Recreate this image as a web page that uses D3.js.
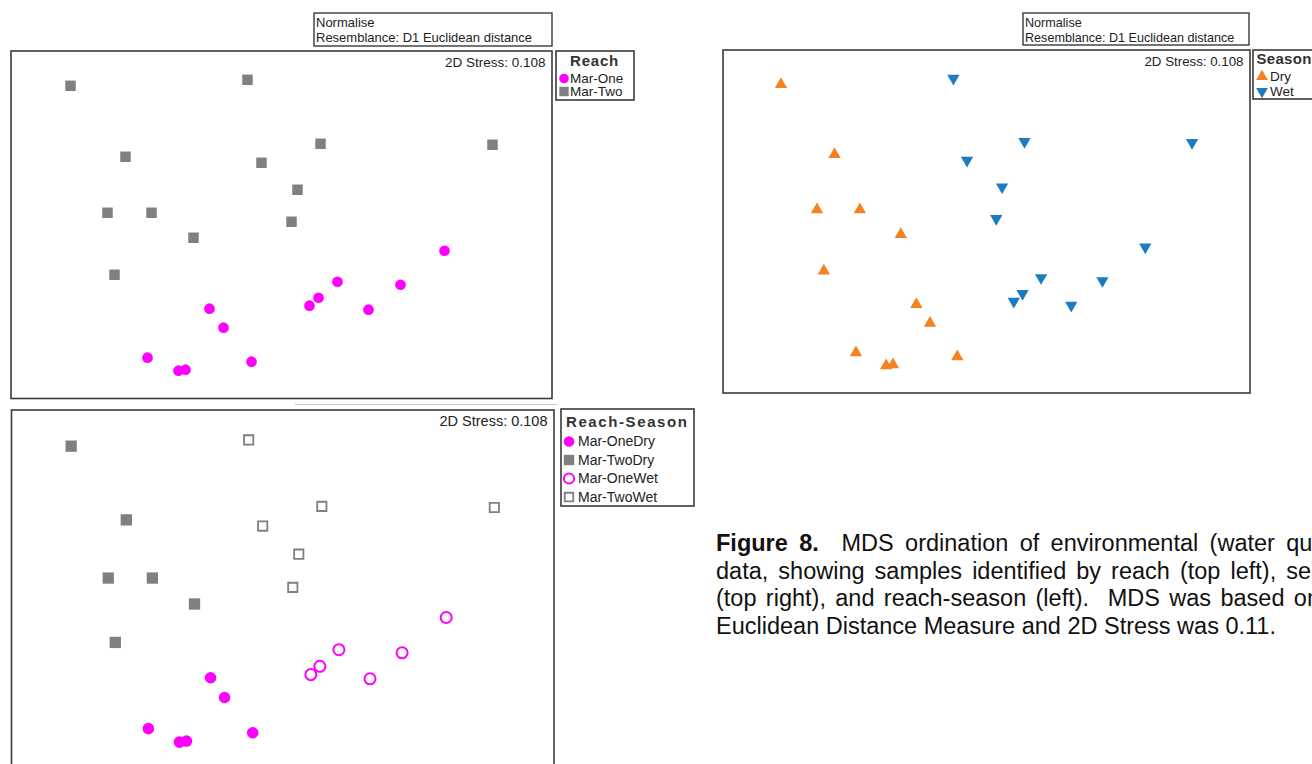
<!DOCTYPE html>
<html>
<head>
<meta charset="utf-8">
<script src="https://cdn.jsdelivr.net/npm/d3@7"></script>
<style>
  body { margin: 0; background: #fff; }
  svg { display: block; font-family: "Liberation Sans", Arial, sans-serif; }
</style>
</head>
<body>
<div id="main"></div>
<script>
// MDS configuration, 24 samples
const mds1 = [-2.11, -0.34, -1.56, -0.20, 0.39, 2.11, 0.16, -1.74, -1.30, 0.10, -0.88, -1.67,
              1.63, 0.56, 1.19, 0.37, 0.28, 0.87, -0.72, -0.58, -1.34, -1.03, -0.96, -0.30];
const mds2 = [1.39, 1.45, 0.68, 0.62, 0.81, 0.80, 0.35, 0.12, 0.12, 0.03, -0.13, -0.50,
              -0.26, -0.57, -0.60, -0.73, -0.81, -0.85, -0.84, -1.03, -1.33, -1.46, -1.45, -1.37];
const reach = ['Mar-Two', 'Mar-Two', 'Mar-Two', 'Mar-Two', 'Mar-Two', 'Mar-Two',
               'Mar-Two', 'Mar-Two', 'Mar-Two', 'Mar-Two', 'Mar-Two', 'Mar-Two',
               'Mar-One', 'Mar-One', 'Mar-One', 'Mar-One', 'Mar-One', 'Mar-One',
               'Mar-One', 'Mar-One', 'Mar-One', 'Mar-One', 'Mar-One', 'Mar-One'];
const season = ['Dry', 'Wet', 'Dry', 'Wet', 'Wet', 'Wet', 'Wet', 'Dry', 'Dry', 'Wet', 'Dry', 'Dry',
                'Wet', 'Wet', 'Wet', 'Wet', 'Wet', 'Wet', 'Dry', 'Dry', 'Dry', 'Dry', 'Dry', 'Dry'];

const reachCats = ['Mar-One', 'Mar-Two'];
const seasonCats = ['Dry', 'Wet'];
const reachSeasonCats = ['Mar-OneDry', 'Mar-TwoDry', 'Mar-OneWet', 'Mar-TwoWet'];

const stressText = '2D Stress: 0.108';
const transformText = ['Normalise', 'Resemblance: D1 Euclidean distance'];

const captionLines = [
  ['Figure 8.', '  MDS ordination of environmental (water quality)'],
  ['', 'data, showing samples identified by reach (top left), season'],
  ['', '(top right), and reach-season (left).  MDS was based on the'],
  ['', 'Euclidean Distance Measure and 2D Stress was 0.11.']
];

const samples = mds1.map((d, i) => ({
  x: d, y: mds2[i], reach: reach[i], season: season[i], rs: reach[i] + season[i]
}));

// canvas
const w = 1312;
const h = 764;

const magenta = '#ff00ff';
const grey = '#808080';
const orange = '#f5821f';
const blue = '#1b7dc0';

// marker look per group
const markers = {
  'Mar-One': { shape: d3.symbolCircle, size: 90, fill: magenta },
  'Mar-Two': { shape: d3.symbolSquare, size: 110, fill: grey },
  'Dry': { shape: d3.symbolTriangle, size: 66, fill: orange, rot: 0 },
  'Wet': { shape: d3.symbolTriangle, size: 66, fill: blue, rot: 180 },
  'Mar-OneDry': { shape: d3.symbolCircle, size: 105, fill: magenta },
  'Mar-TwoDry': { shape: d3.symbolSquare, size: 128, fill: grey },
  'Mar-OneWet': { shape: d3.symbolCircle, size: 96, fill: 'none', stroke: magenta, sw: 2 },
  'Mar-TwoWet': { shape: d3.symbolSquare, size: 86, fill: 'none', stroke: grey, sw: 1.8 }
};

const svg = d3.select('#main')
  .append('svg')
  .attr('width', w)
  .attr('height', h);

const xDomain = [-2.705, 2.705];
const yDomain = [-1.738, 1.738];

const panels = [
  {
    key: 'reach', cats: reachCats, title: 'Reach',
    box: [11, 552, 51, 398.5], stressSize: 13.5,
    note: { x: 314, y: 13, w: 238, h: 33, size: 13 },
    legend: { x: 556, y: 51, w: 78, h: 49, tx0: 570, ls: 0.8, title: 66, rows: [83, 96], mx: 564, tx: 570, size: 13.5, ms: 0.8 }
  },
  {
    key: 'season', cats: seasonCats, title: 'Season',
    box: [723, 1250, 50, 393], stressSize: 13.3,
    note: { x: 1023, y: 13, w: 226, h: 32, size: 12.6 },
    legend: { x: 1253, y: 50, w: 66, h: 49, tx0: 1256.5, ls: 0.3, title: 64, rows: [81, 96], mx: 1262, tx: 1270, size: 13.5, ms: 0.9 }
  },
  {
    key: 'rs', cats: reachSeasonCats, title: 'Reach-Season',
    box: [11.5, 554, 410, 771], stressSize: 14.5,
    note: null,
    legend: { x: 561, y: 409, w: 133, h: 97, tx0: 566, ls: 1.6, title: 427, rows: [446, 464.5, 483, 501.5], mx: 569, tx: 578, size: 14, ms: 0.85 }
  }
];

const symbolPath = (m, k) => d3.symbol().type(m.shape).size(m.size * (k || 1))();

const drawMarker = (g, m, cx, cy, k) => {
  g.append('path')
    .attr('d', symbolPath(m, k))
    .attr('transform', `translate(${cx},${cy}) rotate(${m.rot || 0})`)
    .attr('fill', m.fill)
    .attr('stroke', m.stroke || 'none')
    .attr('stroke-width', m.sw || 0);
};

panels.forEach(p => {
  const [x0, x1, y0, y1] = p.box;
  const xScale = d3.scaleLinear().domain(xDomain).range([x0, x1]);
  const yScale = d3.scaleLinear().domain(yDomain).range([y1, y0]);
  const g = svg.append('g').attr('class', 'panel-' + p.key);

  g.append('rect')
    .attr('x', x0).attr('y', y0)
    .attr('width', x1 - x0).attr('height', y1 - y0)
    .attr('fill', 'none')
    .attr('stroke', '#3a3a3a')
    .attr('stroke-width', 1.6);

  g.append('text')
    .attr('x', x1 - 6.5)
    .attr('y', y0 + 15.5)
    .attr('text-anchor', 'end')
    .style('font-size', p.stressSize + 'px')
    .attr('fill', '#222')
    .text(stressText);

  // points
  g.selectAll('path.pt')
    .data(samples)
    .enter()
    .append('path')
    .attr('class', 'pt')
    .each(function (d) {
      const m = markers[d[p.key === 'rs' ? 'rs' : p.key]];
      d3.select(this)
        .attr('d', symbolPath(m))
        .attr('transform', `translate(${xScale(d.x)},${yScale(d.y)}) rotate(${m.rot || 0})`)
        .attr('fill', m.fill)
        .attr('stroke', m.stroke || 'none')
        .attr('stroke-width', m.sw || 0);
    });

  // transform note box
  if (p.note) {
    const n = p.note;
    g.append('rect')
      .attr('x', n.x).attr('y', n.y).attr('width', n.w).attr('height', n.h)
      .attr('fill', '#fff').attr('stroke', '#3a3a3a').attr('stroke-width', 1.4);
    g.selectAll('text.note')
      .data(transformText)
      .enter()
      .append('text')
      .attr('class', 'note')
      .attr('x', n.x + 2)
      .attr('y', (d, i) => n.y + 13.5 + i * 15.5)
      .style('font-size', n.size + 'px')
      .attr('fill', '#222')
      .text(d => d);
  }

  // legend
  const L = p.legend;
  g.append('rect')
    .attr('x', L.x).attr('y', L.y).attr('width', L.w).attr('height', L.h)
    .attr('fill', '#fff').attr('stroke', '#3a3a3a').attr('stroke-width', 1.6);
  g.append('text')
    .attr('x', L.tx0)
    .attr('y', L.title)
    .style('font-size', '15px')
    .style('font-weight', 'bold')
    .style('letter-spacing', L.ls + 'px')
    .attr('fill', '#333')
    .text(p.title);
  p.cats.forEach((c, i) => {
    drawMarker(g, markers[c], L.mx, L.rows[i] - 4.5, L.ms);
    g.append('text')
      .attr('x', L.tx)
      .attr('y', L.rows[i])
      .style('font-size', L.size + 'px')
      .attr('fill', '#222')
      .text(c);
  });
});

// faint rule left over between the two left plots
svg.append('line')
  .attr('x1', 295).attr('x2', 557)
  .attr('y1', 404.5).attr('y2', 404.5)
  .attr('stroke', '#c8c8c8')
  .attr('stroke-width', 1);

// caption, justified to a right margin beyond the page edge
const capLeft = 716;
const capWidth = 646;
const caption = svg.append('g')
  .style('font-size', '23.5px')
  .attr('fill', '#111');

captionLines.forEach((ln, i) => {
  const t = caption.append('text')
    .attr('x', capLeft)
    .attr('y', 551 + i * 27.5)
    .attr('xml:space', 'preserve');
  t.append('tspan').style('font-weight', 'bold').text(ln[0]);
  t.append('tspan').text(ln[1]);
  if (i < captionLines.length - 1) {
    const natural = t.node().getComputedTextLength();
    const spaces = (ln[0] + ln[1]).split(' ').length - 1;
    t.style('word-spacing', ((capWidth - natural) / spaces) + 'px');
  }
});
</script>
</body>
</html>
